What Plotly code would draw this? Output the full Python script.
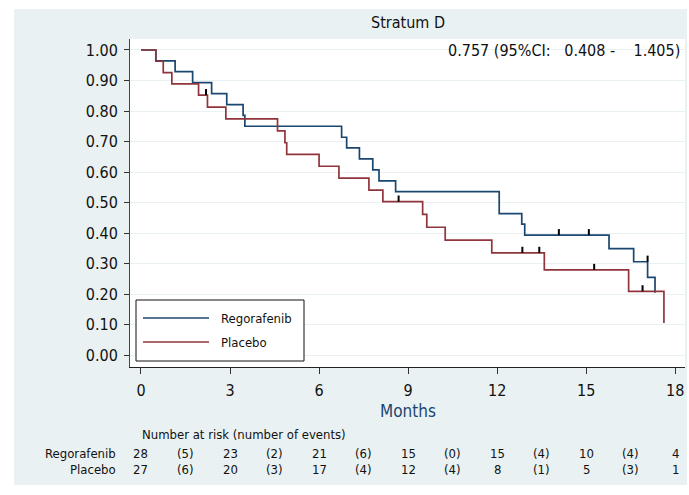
import plotly.graph_objects as go

# ---- data -------------------------------------------------------------
arms = ["Regorafenib", "Placebo"]
arm_colors = ["#1a476f", "#90353b"]

# Kaplan-Meier step points (time in months, survival probability)
reg_t = [0, 0.50, 1.15, 1.74, 2.38, 2.89, 3.44, 3.50, 6.76, 6.93, 7.36, 7.81,
         8.02, 8.58, 12.07, 12.83, 12.93, 15.77, 16.60, 17.07, 17.32]
reg_s = [1.000, 0.964, 0.929, 0.893, 0.857, 0.821, 0.786, 0.750, 0.714, 0.679,
         0.643, 0.607, 0.571, 0.536, 0.464, 0.429, 0.393, 0.349, 0.306, 0.255, 0.204]

pla_t = [0, 0.50, 0.75, 1.04, 1.94, 2.24, 2.86, 4.60, 4.85, 4.91, 6.00, 6.67,
         7.68, 8.15, 9.49, 9.63, 10.25, 11.82, 13.59, 16.43, 17.62]
pla_s = [1.000, 0.963, 0.926, 0.889, 0.852, 0.813, 0.774, 0.735, 0.696, 0.658,
         0.619, 0.580, 0.541, 0.503, 0.461, 0.419, 0.377, 0.335, 0.279, 0.209, 0.105]

# censored observations
reg_cens_t = [14.08, 15.09, 17.07]
reg_cens_s = [0.393, 0.393, 0.306]
pla_cens_t = [2.19, 8.68, 12.85, 13.42, 15.27, 16.90]
pla_cens_s = [0.852, 0.503, 0.335, 0.335, 0.279, 0.209]

# number at risk table
risk_times = [0, 3, 6, 9, 12, 15, 18]
reg_at_risk = [28, 23, 21, 15, 15, 10, 4]
reg_events = [5, 2, 6, 0, 4, 4]
pla_at_risk = [27, 20, 17, 12, 8, 5, 1]
pla_events = [6, 3, 4, 4, 1, 3]

x_ticks = [0, 3, 6, 9, 12, 15, 18]
y_ticks = [0.0, 0.1, 0.2, 0.3, 0.4, 0.5, 0.6, 0.7, 0.8, 0.9, 1.0]

title_text = "Stratum D"
hr_text = "0.757 (95%CI:\u00a0\u00a0 0.408 -\u00a0\u00a0\u00a0 1.405)"
x_title = "Months"
risk_header = "Number at risk (number of events)"

# ---- layout geometry (pixels) ------------------------------------------
W, H = 689, 495
ML, MR, MT, MB = 130, 4, 39, 128
PW, PH = W - ML - MR, H - MT - MB

def px_x(px):
    return (px - ML) / PW

def px_y(py):
    return (H - MB - py) / PH

FONT = "DejaVu Sans Condensed, DejaVu Sans, sans-serif"
PANEL = "#eaf1f3"
TICK_UP = 0.02  # censor tick height in survival units

fig = go.Figure()

curves = [(reg_t, reg_s, reg_cens_t, reg_cens_s), (pla_t, pla_s, pla_cens_t, pla_cens_s)]
for name, color, (t, s, ct, cs) in zip(arms, arm_colors, curves):
    fig.add_trace(go.Scatter(
        x=t, y=s, mode="lines", name=name, showlegend=False,
        line=dict(color=color, width=1.7, shape="hv"),
        hoverinfo="skip",
    ))
for name, color, (t, s, ct, cs) in zip(arms, arm_colors, curves):
    cx, cy = [], []
    for ti, si in zip(ct, cs):
        cx += [ti, ti, None]
        cy += [si, si + TICK_UP, None]
    fig.add_trace(go.Scatter(
        x=cx, y=cy, mode="lines", showlegend=False, hoverinfo="skip",
        line=dict(color="black", width=2),
    ))

shapes = []
# white page margin around the light panel
for x0, x1, y0, y1 in [(0, W, 0, 9), (0, 14, 0, H), (0, W, 485, H), (687, W, 0, H)]:
    shapes.append(dict(type="rect", xref="paper", yref="paper", layer="below",
                       x0=px_x(x0), x1=px_x(x1), y0=px_y(y1), y1=px_y(y0),
                       fillcolor="white", line=dict(width=0)))

# legend box drawn by hand
shapes.append(dict(type="rect", xref="paper", yref="paper", layer="above",
                   x0=px_x(136), x1=px_x(304), y0=px_y(361), y1=px_y(300),
                   fillcolor="white", line=dict(color="#111", width=1)))
annotations = []
for i, (name, color) in enumerate(zip(arms, arm_colors)):
    ly = 318 + 24 * i
    shapes.append(dict(type="line", xref="paper", yref="paper", layer="above",
                       x0=px_x(143), x1=px_x(209), y0=px_y(ly), y1=px_y(ly),
                       line=dict(color=color, width=1.7)))
    annotations.append(dict(text=name, xref="paper", yref="paper",
                            x=px_x(219), y=px_y(ly), xanchor="left", yanchor="middle",
                            showarrow=False, font=dict(size=13, color="#111", family=FONT)))

annotations.append(dict(text=title_text, xref="paper", yref="paper", x=0.5, y=px_y(22),
                        xanchor="center", yanchor="middle", showarrow=False,
                        font=dict(size=16, color="#111", family=FONT)))
annotations.append(dict(text=hr_text, xref="paper", yref="paper", x=px_x(682), y=px_y(50),
                        xanchor="right", yanchor="middle", showarrow=False,
                        font=dict(size=16, color="#111", family=FONT)))
annotations.append(dict(text=x_title, xref="paper", yref="paper", x=0.5, y=px_y(411),
                        xanchor="center", yanchor="middle", showarrow=False,
                        font=dict(size=17, color="#1a476f", family=FONT)))

# number-at-risk table
annotations.append(dict(text=risk_header, xref="x", yref="paper", x=-0.05, y=px_y(434),
                        xanchor="left", yanchor="middle", showarrow=False,
                        font=dict(size=13, color="#111", family=FONT)))
rows = [(arms[0], reg_at_risk, reg_events, 453), (arms[1], pla_at_risk, pla_events, 469)]
for name, at_risk, events, ry in rows:
    annotations.append(dict(text=name, xref="paper", yref="paper", x=px_x(118), y=px_y(ry),
                            xanchor="right", yanchor="middle", showarrow=False,
                            font=dict(size=13, color="#111", family=FONT)))
    for tt, n in zip(risk_times, at_risk):
        annotations.append(dict(text=str(n), xref="x", yref="paper", x=tt, y=px_y(ry),
                                xanchor="center", yanchor="middle", showarrow=False,
                                font=dict(size=13, color="#111", family=FONT)))
    for k, e in enumerate(events):
        mid = (risk_times[k] + risk_times[k + 1]) / 2
        annotations.append(dict(text=f"({e})", xref="x", yref="paper", x=mid, y=px_y(ry),
                                xanchor="center", yanchor="middle", showarrow=False,
                                font=dict(size=13, color="#111", family=FONT)))

fig.update_layout(
    width=W, height=H, autosize=False,
    margin=dict(l=ML, r=MR, t=MT, b=MB, pad=0),
    paper_bgcolor=PANEL, plot_bgcolor="white",
    font=dict(family=FONT, size=16, color="#111"),
    shapes=shapes, annotations=annotations,
    showlegend=False,
    xaxis=dict(range=[-0.37, 18.33], tickvals=x_ticks, ticks="outside", ticklen=6,
               tickcolor="#333", showgrid=False, zeroline=False, showline=True,
               linecolor="#222", linewidth=1, tickfont=dict(size=16, family=FONT),
               ticklabelstandoff=3, fixedrange=True),
    yaxis=dict(range=[-0.039, 1.036], tickvals=y_ticks, tickformat=".2f", ticks="outside",
               ticklen=5, tickcolor="#333", showgrid=True, gridcolor=PANEL, gridwidth=1,
               zeroline=False, showline=True, linecolor="#444", linewidth=1,
               tickfont=dict(size=16, family=FONT), ticklabelstandoff=3, fixedrange=True),
)

fig.write_html("out.html")
